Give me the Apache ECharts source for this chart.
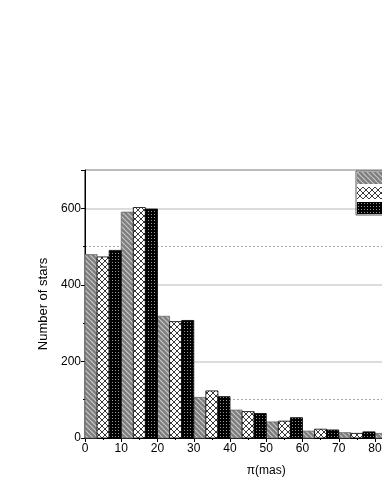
<!DOCTYPE html>
<html>
<head>
<meta charset="utf-8">
<script src="https://cdn.jsdelivr.net/npm/echarts@6/dist/echarts.min.js"></script>
<style>html,body{margin:0;padding:0;background:#fff}#c{width:382px;height:494px}</style>
</head>
<body>
<div id="c"></div>
<script>
// ---- data ----
var binStarts = [0, 10, 20, 30, 40, 50, 60, 70, 80];
var seriesNames = ['Sample A', 'Sample B', 'Sample C'];
var seriesA = [479, 590, 318, 106, 73, 42, 18, 14, 12];
var seriesB = [473, 602, 304, 123, 69, 44, 23, 12, 10];
var seriesC = [490, 598, 307, 108, 64, 53, 21, 16, 12];
var xTicks = [0, 10, 20, 30, 40, 50, 60, 70, 80, 90, 100];
var yTicks = [0, 200, 400, 600];
var refLines = [100, 500];

function makePattern(kind) {
  var c = document.createElement('canvas');
  var ctx = c.getContext('2d');
  if (kind === 0) {
    c.width = 5; c.height = 5;
    ctx.fillStyle = '#7e7e7e'; ctx.fillRect(0, 0, 5, 5);
    ctx.strokeStyle = '#c9c9c9'; ctx.lineWidth = 1.2;
    for (var i = -5; i <= 10; i += 5) {
      ctx.beginPath(); ctx.moveTo(i, 0); ctx.lineTo(i + 5, 5); ctx.stroke();
    }
  } else if (kind === 1) {
    c.width = 6; c.height = 6;
    ctx.fillStyle = '#ffffff'; ctx.fillRect(0, 0, 6, 6);
    ctx.strokeStyle = '#222'; ctx.lineWidth = 0.9;
    ctx.beginPath(); ctx.moveTo(0, 0); ctx.lineTo(6, 6); ctx.stroke();
    ctx.beginPath(); ctx.moveTo(6, 0); ctx.lineTo(0, 6); ctx.stroke();
  } else {
    c.width = 3; c.height = 3;
    ctx.fillStyle = '#000'; ctx.fillRect(0, 0, 3, 3);
    ctx.fillStyle = '#9a9a9a'; ctx.fillRect(1, 1, 1, 1);
  }
  return { image: c, repeat: 'repeat' };
}
var patterns = [makePattern(0), makePattern(1), makePattern(2)];
var strokes = ['#6a6a6a', '#000', '#000'];
var allData = [seriesA, seriesB, seriesC];

function buildSeries(k) {
  return {
    name: seriesNames[k],
    type: 'custom',
    itemStyle: { color: patterns[k], borderColor: strokes[k] },
    data: binStarts.map(function (s, i) { return [s, allData[k][i]]; }),
    encode: { x: 0, y: 1 },
    renderItem: function (params, api) {
      var s = api.value(0), v = api.value(1);
      var w = 10 / 3;
      var p1 = api.coord([s + k * w, v]);
      var p2 = api.coord([s + (k + 1) * w, 0]);
      return {
        type: 'rect',
        shape: { x: p1[0], y: p1[1], width: p2[0] - p1[0], height: p2[1] - p1[1] },
        style: { fill: patterns[k], stroke: strokes[k], lineWidth: 0.8 }
      };
    },
    markLine: k === 0 ? {
      silent: true, symbol: 'none', label: { show: false },
      lineStyle: { color: '#aaa', type: [2, 2], width: 1 },
      data: refLines.map(function (v) { return { yAxis: v }; }),
      z: 0
    } : undefined,
    z: 2
  };
}

var chart = echarts.init(document.getElementById('c'), null, { renderer: 'canvas' });
chart.setOption({
  animation: false,
  backgroundColor: '#fff',
  textStyle: { fontFamily: 'Liberation Sans, Arial, sans-serif' },
  grid: { left: 85, top: 170, width: 362.5, bottom: 56, containLabel: false, outerBoundsMode: 'none',
    show: true, borderColor: '#000', borderWidth: 1, backgroundColor: 'transparent' },
  legend: {
    orient: 'vertical', left: 356, top: 171, itemWidth: 30, itemHeight: 12, itemGap: 3,
    padding: [1, 2, 1, 1], borderColor: '#555', borderWidth: 1, icon: 'rect',
    textStyle: { fontSize: 11, color: '#000' },
    data: seriesNames
  },
  xAxis: {
    type: 'value', min: xTicks[0], max: xTicks[xTicks.length - 1], interval: 10,
    name: 'π(mas)', nameLocation: 'middle', nameGap: 27,
    nameTextStyle: { fontSize: 12, color: '#000' },
    axisLine: { lineStyle: { color: '#000', width: 1 } },
    axisTick: { show: true, length: 4, lineStyle: { color: '#000' } },
    minorTick: { show: true, splitNumber: 2, length: 2, lineStyle: { color: '#000' } },
    axisLabel: { fontSize: 12, color: '#000', margin: 5 },
    splitLine: { show: false }
  },
  yAxis: {
    type: 'value', min: 0, max: 700, interval: 200,
    name: 'Number of stars', nameLocation: 'middle', nameGap: 31,
    nameTextStyle: { fontSize: 13, color: '#000' },
    axisLine: { show: true, lineStyle: { color: '#000', width: 1 } },
    axisTick: { show: true, length: 4, lineStyle: { color: '#000' } },
    minorTick: { show: true, splitNumber: 2, length: 2, lineStyle: { color: '#000' } },
    axisLabel: { fontSize: 12, color: '#000', margin: 4,
      formatter: function (v) { return yTicks.indexOf(v) >= 0 ? String(v) : ''; } },
    splitLine: { show: true, lineStyle: { color: '#d0d0d0', width: 1.5 } }
  },
  series: [buildSeries(0), buildSeries(1), buildSeries(2)]
});
</script>
</body>
</html>
